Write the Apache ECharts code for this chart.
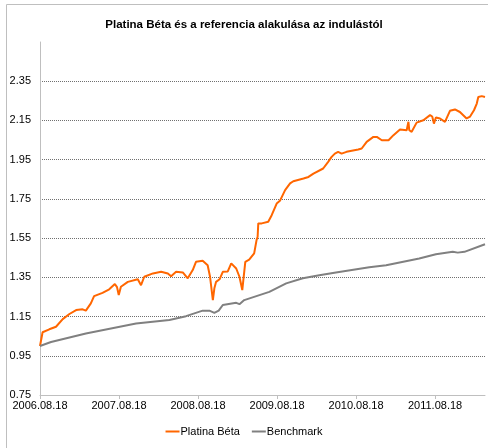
<!DOCTYPE html>
<html>
<head>
<meta http-equiv="Content-Type" content="text/html; charset=UTF-8">
<title>Platina Béta</title>
<script src="https://cdn.jsdelivr.net/npm/echarts@6/dist/echarts.min.js"></script>
</head>
<body style="margin:0">
<div id="chart" style="width: 488px; height: 448px;"></div>
<script type="text/javascript">
    var xLabels = ['2006.08.18', '2007.08.18', '2008.08.18', '2009.08.18', '2010.08.18', '2011.08.18'];

    var betaDates = ['2006-08-18', '2006-08-30', '2006-09-30', '2006-10-31', '2006-12-01', '2007-01-01',
        '2007-02-01', '2007-03-03', '2007-03-18', '2007-04-10', '2007-04-25', '2007-06-03', '2007-07-04',
        '2007-07-30', '2007-08-09', '2007-08-17', '2007-08-27', '2007-09-28', '2007-11-13', '2007-11-28',
        '2007-12-13', '2008-01-22', '2008-02-29', '2008-03-31', '2008-04-15', '2008-05-08', '2008-06-08',
        '2008-07-01', '2008-07-24', '2008-08-08', '2008-09-08', '2008-10-01', '2008-10-12', '2008-10-25',
        '2008-11-01', '2008-11-09', '2008-11-25', '2008-12-10', '2009-01-02', '2009-01-18', '2009-02-10',
        '2009-02-25', '2009-03-10', '2009-03-24', '2009-04-11', '2009-05-04', '2009-05-15', '2009-05-20',
        '2009-05-23', '2009-06-08', '2009-07-08', '2009-07-24', '2009-08-16', '2009-08-31', '2009-09-24',
        '2009-10-17', '2009-11-01', '2009-12-18', '2010-01-10', '2010-02-02', '2010-03-19', '2010-04-11',
        '2010-04-27', '2010-05-12', '2010-05-27', '2010-06-12', '2010-07-05', '2010-08-28', '2010-09-13',
        '2010-10-06', '2010-11-06', '2010-11-22', '2010-12-15', '2011-01-15', '2011-02-07', '2011-03-09',
        '2011-04-09', '2011-04-17', '2011-04-21', '2011-05-02', '2011-05-25', '2011-06-25', '2011-07-26',
        '2011-08-05', '2011-08-13', '2011-08-22', '2011-09-10', '2011-10-03', '2011-10-26', '2011-11-18',
        '2011-12-11', '2012-01-11', '2012-01-27', '2012-02-14', '2012-02-27', '2012-03-05', '2012-03-21',
        '2012-04-05'];
    var betaValues = [1.00, 1.07, 1.085, 1.098, 1.137, 1.163,
        1.183, 1.187, 1.18, 1.217, 1.254, 1.271, 1.289,
        1.316, 1.30, 1.26, 1.302, 1.327, 1.34, 1.31,
        1.353, 1.37, 1.378, 1.37, 1.356, 1.378, 1.375,
        1.345, 1.387, 1.429, 1.434, 1.412, 1.353, 1.234,
        1.294, 1.327, 1.34, 1.378, 1.38, 1.421, 1.395,
        1.353, 1.285, 1.429, 1.44, 1.472, 1.54, 1.557,
        1.625, 1.625, 1.633, 1.667, 1.726, 1.74, 1.795,
        1.829, 1.84, 1.854, 1.862, 1.879, 1.905, 1.939,
        1.964, 1.981, 1.99, 1.981, 1.99, 2.002, 2.007,
        2.041, 2.066, 2.066, 2.049, 2.049, 2.075, 2.104,
        2.10, 2.143, 2.10, 2.092, 2.139, 2.151, 2.177,
        2.17, 2.134, 2.165, 2.16, 2.143, 2.199, 2.206,
        2.193, 2.16, 2.17, 2.202, 2.236, 2.27, 2.274,
        2.27];

    var benchDates = ['2006-08-18', '2006-10-08', '2007-03-18', '2007-11-05', '2008-04-07', '2008-06-23',
        '2008-09-08', '2008-10-09', '2008-11-01', '2008-11-21', '2008-12-10', '2009-02-10', '2009-02-25',
        '2009-03-19', '2009-07-13', '2009-09-29', '2009-12-15', '2010-03-01', '2010-05-17', '2010-10-18',
        '2011-01-04', '2011-06-06', '2011-08-22', '2011-11-08', '2011-12-01', '2012-01-01', '2012-01-06',
        '2012-04-05'];
    var benchValues = [1.00, 1.02, 1.064, 1.115, 1.132, 1.152,
        1.18, 1.18, 1.169, 1.18, 1.209, 1.22, 1.213,
        1.234, 1.276, 1.319, 1.345, 1.361, 1.375, 1.401,
        1.412, 1.446, 1.468, 1.48, 1.476, 1.48, 1.488,
        1.519];

    var DAY = 86400000;
    var xMin = Date.parse('2006-08-18');
    var xMax = Date.parse('2012-04-05');
    var yearMs = 365.25 * DAY;

    function pairs(dates, values) {
        var out = [];
        for (var i = 0; i < dates.length; i++) {
            out.push([Date.parse(dates[i]), values[i]]);
        }
        return out;
    }

    var font = "'Liberation Sans', Arial, sans-serif";
    var myChart = echarts.init(document.getElementById('chart'));
    myChart.setOption({
        animation: false,
        backgroundColor: '#fff',
        graphic: [{
            type: 'rect',
            shape: { x: 6.5, y: 4.5, width: 500, height: 500 },
            style: { fill: 'none', stroke: '#bfbfbf', lineWidth: 1 },
            silent: true
        }],
        title: {
            text: 'Platina Béta és a referencia alakulása az indulástól',
            left: 'center',
            top: 14,
            textStyle: { fontFamily: font, fontSize: 11.5, fontWeight: 'bold', color: '#000' }
        },
        legend: {
            bottom: 6,
            left: 'center',
            itemWidth: 14,
            itemHeight: 2,
            itemGap: 12,
            icon: 'rect',
            textStyle: { fontFamily: font, fontSize: 11, color: '#000', padding: [0, 0, 0, -4] },
            data: ['Platina Béta', 'Benchmark']
        },
        grid: { left: 40, right: 3, top: 42, bottom: 53 },
        xAxis: {
            type: 'value',
            min: xMin,
            max: xMax,
            interval: yearMs,
            axisLine: { lineStyle: { color: '#bfbfbf' } },
            axisTick: { show: true, length: 4, lineStyle: { color: '#bfbfbf' } },
            splitLine: { show: false },
            axisLabel: {
                showMaxLabel: false,
                margin: 5,
                fontFamily: font,
                fontSize: 11,
                color: '#000',
                formatter: function (v) {
                    var i = Math.round((v - xMin) / yearMs);
                    return xLabels[i] || '';
                }
            }
        },
        yAxis: {
            type: 'value',
            min: 0.75,
            max: 2.55,
            interval: 0.2,
            axisLine: { show: true, lineStyle: { color: '#bfbfbf' } },
            axisTick: { show: false },
            splitLine: { show: true, showMaxLine: false, lineStyle: { color: '#707070', type: 'dotted' } },
            axisLabel: {
                showMaxLabel: false,
                margin: 9,
                fontFamily: font,
                fontSize: 11,
                color: '#000',
                formatter: function (v) {
                    return v.toFixed(2);
                }
            }
        },
        series: [{
            name: 'Platina Béta',
            type: 'line',
            showSymbol: false,
            color: '#ff6600',
            lineStyle: { width: 2, color: '#ff6600' },
            data: pairs(betaDates, betaValues)
        }, {
            name: 'Benchmark',
            type: 'line',
            showSymbol: false,
            color: '#808080',
            lineStyle: { width: 2, color: '#808080' },
            data: pairs(benchDates, benchValues)
        }]
    });
</script>
</body>
</html>
